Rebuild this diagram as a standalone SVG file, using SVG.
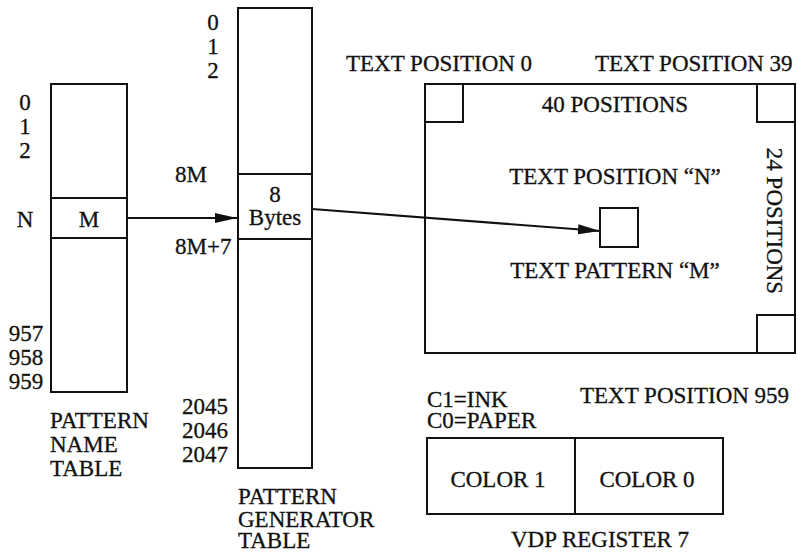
<svg xmlns="http://www.w3.org/2000/svg" width="798" height="553" viewBox="0 0 798 553">
<defs>
<style>
text{font-family:"Liberation Serif","Times New Roman",serif;font-size:23px;fill:#111;stroke:#111;stroke-width:0.3}
.m{text-anchor:middle}
.e{text-anchor:end}
.b{fill:none;stroke:#111;stroke-width:2}
.c{fill:none;stroke:#111;stroke-width:2}
</style>
<marker id="ah" markerWidth="22" markerHeight="12" refX="22" refY="6" orient="auto" markerUnits="userSpaceOnUse"><path d="M0,1 L22,6 L0,11 z" fill="#111"/></marker>
</defs>
<rect width="798" height="553" fill="#fff"/>
<g id="name-table">
<rect class="b" x="51" y="84" width="76" height="308"/>
<line class="b" x1="51" y1="198" x2="127" y2="198"/>
<line class="b" x1="51" y1="238" x2="127" y2="238"/>
<text class="m" x="89" y="227">M</text>
<text class="m" x="25" y="110">0</text>
<text class="m" x="25" y="134">1</text>
<text class="m" x="25" y="158">2</text>
<text class="m" x="25" y="227">N</text>
<text class="m" x="26" y="341">957</text>
<text class="m" x="26" y="365">958</text>
<text class="m" x="26" y="389">959</text>
<text x="50" y="428">PATTERN</text>
<text x="50" y="452">NAME</text>
<text x="50" y="476">TABLE</text>
</g>
<g id="generator-table">
<rect class="b" x="238" y="8" width="74" height="460"/>
<line class="b" x1="238" y1="174" x2="312" y2="174"/>
<line class="b" x1="238" y1="239" x2="312" y2="239"/>
<text class="m" x="275" y="202">8</text>
<text class="m" x="275" y="225">Bytes</text>
<text class="m" x="213" y="30">0</text>
<text class="m" x="213" y="54">1</text>
<text class="m" x="213" y="78">2</text>
<text x="175" y="182">8M</text>
<text x="175" y="254">8M+7</text>
<text class="e" x="228" y="414">2045</text>
<text class="e" x="228" y="438">2046</text>
<text class="e" x="228" y="462">2047</text>
<text x="238" y="504">PATTERN</text>
<text x="238" y="527">GENERATOR</text>
<text x="238" y="548">TABLE</text>
</g>
<g id="screen">
<rect class="b" x="425" y="84" width="370" height="269"/>
<rect class="b" x="425" y="84" width="38" height="38"/>
<rect class="b" x="757" y="84" width="38" height="38"/>
<rect class="b" x="757" y="315" width="38" height="38"/>
<rect class="b" x="600" y="208" width="38" height="39"/>
<text x="346" y="71">TEXT POSITION 0</text>
<text x="595" y="71">TEXT POSITION 39</text>
<text class="m" x="615" y="112">40 POSITIONS</text>
<text class="m" x="615" y="184">TEXT POSITION “N”</text>
<text class="m" x="615" y="278">TEXT PATTERN “M”</text>
<text class="m" transform="translate(767,221) rotate(90)">24 POSITIONS</text>
<text x="580" y="403">TEXT POSITION 959</text>
</g>
<g id="vdp-register">
<rect class="b" x="427" y="438" width="296" height="76"/>
<line class="b" x1="575" y1="438" x2="575" y2="514"/>
<text class="m" x="498" y="487">COLOR 1</text>
<text class="m" x="647" y="487">COLOR 0</text>
<text x="427" y="407">C1=INK</text>
<text x="427" y="428">C0=PAPER</text>
<text class="m" x="600" y="547">VDP REGISTER 7</text>
</g>
<g id="connectors">
<line class="c" x1="127" y1="218" x2="237" y2="218" marker-end="url(#ah)"/>
<line class="c" x1="312" y1="209" x2="600" y2="231" marker-end="url(#ah)"/>
</g>
</svg>
